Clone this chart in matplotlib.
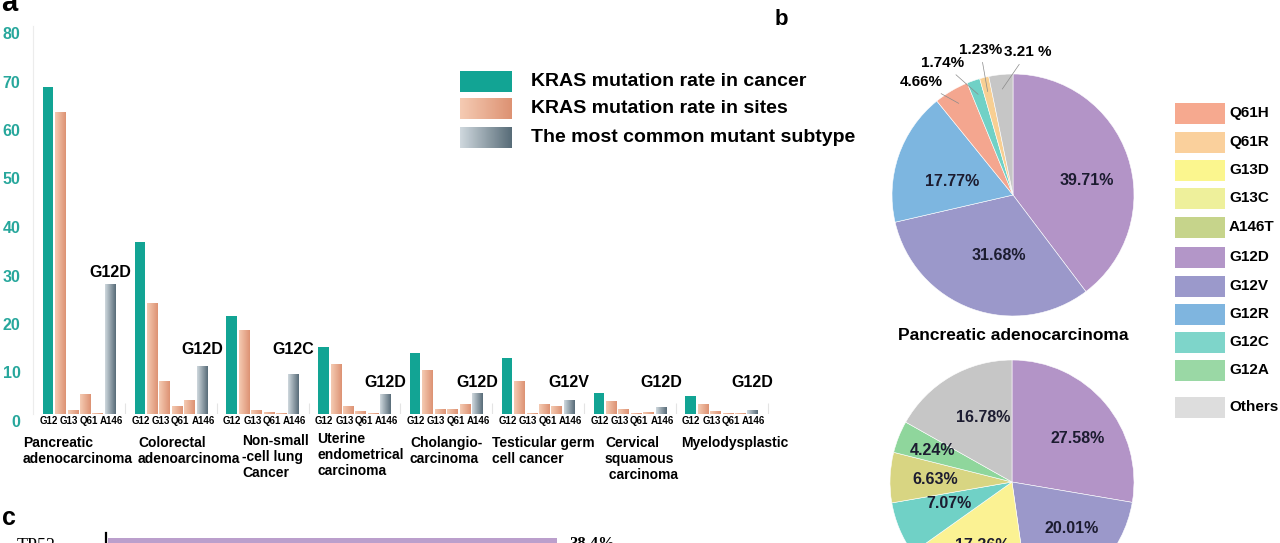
import numpy as np
import matplotlib
matplotlib.use("Agg")
import matplotlib.pyplot as plt
from matplotlib import font_manager
from matplotlib.colors import LinearSegmentedColormap
from matplotlib.patches import Rectangle
from matplotlib.transforms import ScaledTranslation

plt.rcParams["font.family"] = ["Liberation Sans", "DejaVu Sans"]
installed = {f.name for f in font_manager.fontManager.ttflist}
narrow = "Liberation Sans Narrow" if "Liberation Sans Narrow" in installed else "Liberation Sans"

# ---- panel a data ----
cancers = ["Pancreatic\nadenocarcinoma", "Colorectal\nadenoarcinoma",
           "Non-small\n-cell lung\nCancer", "Uterine\nendometrical\ncarcinoma",
           "Cholangio-\ncarcinoma", "Testicular germ\ncell cancer",
           "Cervical\nsquamous\n carcinoma", "Myelodysplastic"]
site_labels = ["G12", "G13", "Q61", "A146"]
cancer_rate = [67.4, 35.5, 20.2, 13.8, 12.6, 11.6, 4.3, 3.8]
site_g12 = [62.1, 22.7, 17.3, 10.3, 8.9, 6.8, 2.5, 1.9]
site_g13 = [0.7, 6.6, 0.7, 1.6, 1.0, 0.05, 0.9, 0.6]
site_q61 = [4.1, 1.5, 0.3, 0.5, 1.0, 1.9, 0.1, 0.05]
site_a146 = [0.1, 2.7, 0.05, 0.1, 1.9, 1.6, 0.4, 0.2]
common_rate = [26.6, 9.7, 8.2, 4.1, 4.2, 2.7, 1.3, 0.8]
common_subtype = ["G12D", "G12D", "G12C", "G12D", "G12D", "G12V", "G12D", "G12D"]

# ---- panel b data ----
pie1_labels = ["G12D", "G12V", "G12R", "Q61H", "G12C", "Q61R", "Others"]
pie1_values = [39.71, 31.68, 17.77, 4.66, 1.74, 1.23, 3.21]
pie2_title = "Pancreatic adenocarcinoma"
pie2_labels = ["G12D", "G12V", "G13D", "G12C", "A146T", "G12A", "Others"]
pie2_values = [27.58, 20.01, 17.36, 7.07, 6.63, 4.24, 16.78]
legend_subtypes = ["Q61H", "Q61R", "G13D", "G13C", "A146T", "G12D",
                   "G12V", "G12R", "G12C", "G12A", "Others"]

# ---- panel c data ----
c_genes = ["TP53"]
c_values = [38.4]

# colours
teal = "#12a494"
salmon_cmap = LinearSegmentedColormap.from_list("salmon", ["#f5cbb3", "#dd9273"])
grey_cmap = LinearSegmentedColormap.from_list("grey", ["#cfd8de", "#586c78"])
pie_colors = {"G12D": "#b394c7", "G12V": "#9b98ca", "G12R": "#7db6e0",
              "Q61H": "#f4a68f", "G12C": "#70d1c6", "Q61R": "#f8cf93",
              "Others": "#c6c6c6", "G13D": "#fbf293", "A146T": "#d8d582",
              "G12A": "#8fd69c"}
legend_colors = ["#f6a98f", "#fad09c", "#fbf68e", "#eef09b", "#c6d48b", "#b396c8",
                 "#9b99cb", "#7fb5df", "#7ed5ca", "#9ad8a5", "#dddddd"]

W, H = 1280, 543
fig = plt.figure(figsize=(W / 100, H / 100), dpi=100)


def px_axes(x0, y0, x1, y1):
    # box in pixels, y counted from the top
    return fig.add_axes([x0 / W, 1 - y1 / H, (x1 - x0) / W, (y1 - y0) / H])


def shift(artist, dy_px):
    artist.set_transform(artist.get_transform() +
                         ScaledTranslation(0, dy_px / 100, fig.dpi_scale_trans))


# overlay in pixel coordinates for free text / legends
ov = px_axes(0, 0, W, H)
ov.set_xlim(0, W)
ov.set_ylim(H, 0)
ov.axis("off")

# ================= panel a =================
ax = px_axes(33, 26, 770, 414)
base = np.arange(len(cancers)) * 7.4
bw = 0.84
ax.bar(base, cancer_rate, bw, color=teal, zorder=2)
site_patches = []
for k, vals in enumerate([site_g12, site_g13, site_q61, site_a146]):
    site_patches += list(ax.bar(base + 1 + k, vals, bw, color="none"))
common_patches = list(ax.bar(base + 5, common_rate, bw, color="none"))

grad = np.linspace(0, 1, 64).reshape(1, -1)
for patches, cmap in [(site_patches, salmon_cmap), (common_patches, grey_cmap)]:
    for p in patches:
        x0 = p.get_x()
        ax.imshow(grad, cmap=cmap, aspect="auto", interpolation="bilinear",
                  extent=[x0, x0 + p.get_width(), 0, p.get_height()], zorder=2)

ax.vlines(base + 6.2, 0, 2.2, color="#e4e4e4", lw=0.8)
site_off = [0.05, 1.7, 3.25, 5.1]
for g in base:
    for k, s in enumerate(site_labels):
        ax.text(g + site_off[k], -1.45, s, ha="center", va="center",
                fontsize=7, fontweight="bold", family=narrow)

label_y = [29.1, 13.2, 13.2, 6.4, 6.4, 6.4, 6.4, 6.4]
for x, ly, s in zip(base + 5, label_y, common_subtype):
    ax.text(x, ly, s, ha="center", va="center", fontsize=11.5, fontweight="bold")

ax.set_xlim(-1.21, 58.2)
ax.set_ylim(0, 80)
ax.set_xticks([])
ax.set_yticks(range(0, 81, 10))
ax.tick_params(axis="y", length=0, pad=9, labelcolor="#27a79c", labelsize=11.5)
for lbl in ax.get_yticklabels():
    lbl.set_fontweight("bold")
    lbl.set_family(narrow)
    shift(lbl, -7)
for side in ["top", "right", "bottom"]:
    ax.spines[side].set_visible(False)
ax.spines["left"].set_color("#ececec")
ax.patch.set_alpha(0)

name_x = [23, 138, 242, 317, 410, 492, 605, 681]
name_y = [436, 436, 434, 432, 436, 436, 436, 436]
for x, y, s in zip(name_x, name_y, cancers):
    ov.text(x, y, s, ha="left", va="top", fontsize=10, fontweight="bold",
            linespacing=1.2)

# legend of panel a
leg_rows = [(71, 92, None, "KRAS mutation rate in cancer"),
            (98, 119, salmon_cmap, "KRAS mutation rate in sites"),
            (127, 148, grey_cmap, "The most common mutant subtype")]
for y0, y1, cmap, txt in leg_rows:
    if cmap is None:
        ov.add_patch(Rectangle((460, y0), 52, y1 - y0, color=teal, lw=0))
    else:
        ov.imshow(grad, cmap=cmap, aspect="auto", interpolation="bilinear",
                  extent=[460, 512, y1, y0])
    ov.text(531, (y0 + y1) / 2, txt, ha="left", va="center", fontsize=14,
            fontweight="bold")

ov.text(1, 17, "a", fontsize=21, fontweight="bold", va="bottom", ha="left")
ov.text(775, 30, "b", fontsize=16, fontweight="bold", va="bottom", ha="left",
        family=narrow)
ov.text(2, 530, "c", fontsize=18, fontweight="bold", va="bottom", ha="left")

# ================= panel b =================
lab_col = "#1c1c30"

ax1 = px_axes(1013 - 121, 195 - 121, 1013 + 121, 195 + 121)
w1, _ = ax1.pie(pie1_values, colors=[pie_colors[s] for s in pie1_labels],
                startangle=90, counterclock=False,
                wedgeprops=dict(edgecolor="white", linewidth=0.4))
ax1.set_xlim(-1, 1)
ax1.set_ylim(-1, 1)
pie1_text = [f"{v:.2f}%" for v in pie1_values]
pie1_text[-1] = f"{pie1_values[-1]:.2f} %"
pie1_pos = [(0.61, 0.12), (-0.12, -0.50), (-0.50, 0.11),
            (-0.76, 0.93), (-0.58, 1.09), (-0.27, 1.20), (0.12, 1.18)]
for w, txt, (tx, ty) in zip(w1, pie1_text, pie1_pos):
    if (tx * tx + ty * ty) < 1:
        ax1.text(tx, ty, txt, ha="center", va="center", fontsize=11.5,
                 fontweight="bold", color=lab_col)
    else:
        mid = np.deg2rad((w.theta1 + w.theta2) / 2)
        ax1.annotate(txt, xy=(0.88 * np.cos(mid), 0.88 * np.sin(mid)),
                     xytext=(tx, ty), ha="center", va="center", fontsize=11,
                     fontweight="bold", annotation_clip=False,
                     arrowprops=dict(arrowstyle="-", color="#8a8a8a", lw=0.5,
                                     shrinkA=2, shrinkB=0))

ov.text(1013, 335, pie2_title, ha="center", va="center", fontsize=12.5,
        fontweight="bold")

ax2 = px_axes(1012 - 122, 482 - 122, 1012 + 122, 482 + 122)
w2, _ = ax2.pie(pie2_values, colors=[pie_colors[s] for s in pie2_labels],
                startangle=90, counterclock=False,
                wedgeprops=dict(edgecolor="white", linewidth=0.4))
ax2.set_xlim(-1, 1)
ax2.set_ylim(-1, 1)
pie2_pos = [(0.54, 0.36), (0.49, -0.38), (-0.24, -0.52), (-0.52, -0.18),
            (-0.63, 0.02), (-0.65, 0.26), (-0.24, 0.53)]
for v, (tx, ty) in zip(pie2_values, pie2_pos):
    ax2.text(tx, ty, f"{v:.2f}%", ha="center", va="center", fontsize=11.5,
             fontweight="bold", color=lab_col)

leg_y = [113.5, 142, 170, 198, 227, 257, 286, 314, 342, 370, 407]
for y, s, col in zip(leg_y, legend_subtypes, legend_colors):
    ov.add_patch(Rectangle((1175, y - 10.5), 50, 21, color=col, lw=0))
    ov.text(1229, y, s, ha="left", va="center", fontsize=11, fontweight="bold")

# ================= panel c =================
axc = px_axes(106, 533, 691, 583)
axc.barh(range(len(c_genes)), c_values, 0.5, color="#bb9fcc", left=0.15)
for i, v in enumerate(c_values):
    t = axc.text(v + 1.2, i, f"{v}%", va="center", ha="left", fontsize=12,
                 family="Liberation Serif", fontweight="bold")
    shift(t, 3)
axc.set_xlim(0, 50)
axc.set_ylim(1.0, -0.4)
axc.set_yticks(range(len(c_genes)))
axc.set_yticklabels(c_genes, family="Liberation Serif", fontsize=13)
axc.tick_params(axis="y", length=0, pad=36)
for lbl in axc.get_yticklabels():
    shift(lbl, 3)
axc.set_xticks([])
for side in ["top", "right", "bottom"]:
    axc.spines[side].set_visible(False)
axc.spines["left"].set_linewidth(1.6)
axc.patch.set_alpha(0)

fig.savefig("out.png", dpi=100)
